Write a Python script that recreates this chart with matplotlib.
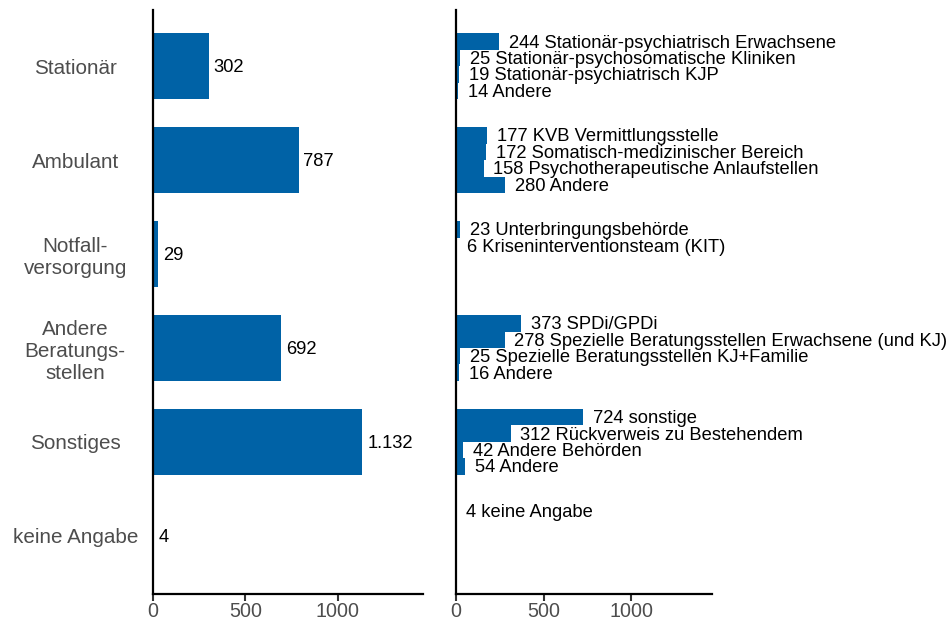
import numpy as np
import matplotlib
matplotlib.use("Agg")
import matplotlib.pyplot as plt

plt.rcParams['font.family'] = ['Liberation Sans', 'DejaVu Sans']

# Hauptkategorien
categories = ["Stationär", "Ambulant", "Notfall-\nversorgung", "Andere\nBeratungs-\nstellen",
              "Sonstiges", "keine Angabe"]
totals = [302, 787, 29, 692, 1132, 4]
total_labels = ["302", "787", "29", "692", "1.132", "4"]

# Unterkategorien
sub_values = [[244, 25, 19, 14],
              [177, 172, 158, 280],
              [23, 6],
              [373, 278, 25, 16],
              [724, 312, 42, 54],
              [4]]
sub_names = [["Stationär-psychiatrisch Erwachsene", "Stationär-psychosomatische Kliniken",
              "Stationär-psychiatrisch KJP", "Andere"],
             ["KVB Vermittlungsstelle", "Somatisch-medizinischer Bereich",
              "Psychotherapeutische Anlaufstellen", "Andere"],
             ["Unterbringungsbehörde", "Kriseninterventionsteam (KIT)"],
             ["SPDi/GPDi", "Spezielle Beratungsstellen Erwachsene (und KJ)",
              "Spezielle Beratungsstellen KJ+Familie", "Andere"],
             ["sonstige", "Rückverweis zu Bestehendem", "Andere Behörden", "Andere"],
             ["keine Angabe"]]

blue = '#0062a6'
grey = '#4d4d4d'
bar_h = 0.7
xticks = [0, 500, 1000]

fig = plt.figure(figsize=(9.49, 6.23), dpi=100)
ax1 = fig.add_axes([153/949, 29/623, 270/949, 584/623])
ax2 = fig.add_axes([456/949, 29/623, 256/949, 584/623])

y = np.arange(len(categories))
ax1.barh(y, totals, height=bar_h, color=blue)
for yi, v, lab in zip(y, totals, total_labels):
    ax1.annotate(lab, (v, yi), xytext=(3.5, -1), textcoords='offset points',
                 va='center', ha='left', fontsize=13.2, color='black')
ax1.set_yticks(y)
ax1.set_yticklabels(categories, fontsize=14.9, color=grey, ha='center', linespacing=1.2)
ax1.tick_params(axis='y', length=0, pad=56)

sub_h = bar_h / 4
for i, (vals, names) in enumerate(zip(sub_values, sub_names)):
    top = i - bar_h / 2
    for j, (v, n) in enumerate(zip(vals, names)):
        yc = top + sub_h * (j + 0.5)
        ax2.barh(yc, v, height=sub_h, color=blue)
        ax2.annotate(f"{v} {n}", (v, yc), xytext=(7, -1), textcoords='offset points',
                     va='center', ha='left', fontsize=13.2, color='black')
ax2.set_yticks([])

for ax in (ax1, ax2):
    ax.set_xlim(0, 1460)
    ax.set_ylim(len(categories) - 1 + 0.62, -0.6)
    ax.set_xticks(xticks)
    ax.set_xticklabels([str(t) for t in xticks], fontsize=14.2, color=grey)
    ax.tick_params(axis='x', length=5, width=1.5, color='#333333', pad=1)
    for s in ('top', 'right'):
        ax.spines[s].set_visible(False)
    for s in ('left', 'bottom'):
        ax.spines[s].set_linewidth(1.6)
        ax.spines[s].set_color('black')

fig.savefig('out.png', dpi=100)
